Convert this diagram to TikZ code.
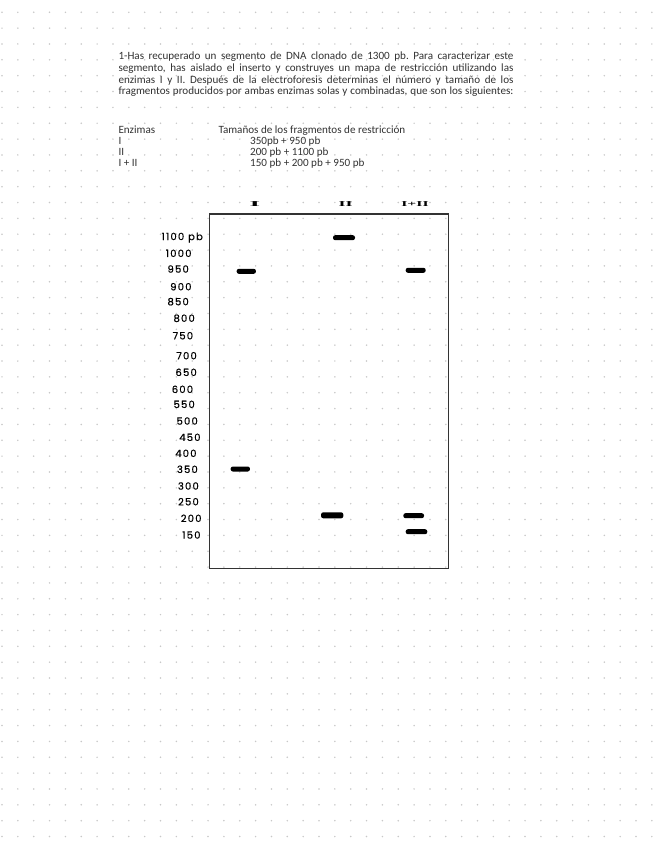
\documentclass[tikz,border=0pt]{standalone}
\usepackage{fontspec}
\setmainfont{Carlito}
\newfontfamily\handfont[LetterSpace=12,FakeBold=0.6]{Poppins}
\newfontfamily\lanefont{Liberation Serif}
\frenchspacing
\definecolor{dotgray}{RGB}{200,200,200}
\definecolor{inkgray}{RGB}{50,50,50}
\tikzset{
  band/.style={rectangle, fill=black, rounded corners=2.2pt, minimum height=5pt, inner sep=0pt},
  marker/.style={font=\handfont\fontsize{10}{11}\selectfont, inner sep=0pt, anchor=east},
  lane/.style={font=\lanefont\bfseries\fontsize{7.5}{9}\selectfont, inner sep=0pt},
  txt/.style={font=\fontsize{11.1}{11.7}\selectfont, text=inkgray, inner sep=0pt, anchor=mid west}
}
\begin{document}
\begin{tikzpicture}[x=1pt,y=-1pt]
\useasboundingbox (0,0) rectangle (656,848);
\fill[white] (0,0) rectangle (656,848);

\foreach \i in {0,...,41}
  \foreach \j in {0,...,52}
    \fill[dotgray] (2+15.85*\i,12.3+15.85*\j) circle (0.85);

\node[txt] (line1) at (118.3,57.3) {\makebox[395pt][s]{1-Has recuperado un segmento de DNA clonado de 1300 pb. Para caracterizar este}};
\node[txt] (line2) at (118.3,69) {\makebox[395pt][s]{segmento, has aislado el inserto y construyes un mapa de restricción utilizando las}};
\node[txt] (line3) at (118.3,80.7) {\makebox[395pt][s]{enzimas I y II. Después de la electroforesis determinas el número y tamaño de los}};
\node[txt] (line4) at (118.3,92.3) {\makebox[395pt][s]{fragmentos producidos por ambas enzimas solas y combinadas, que son los siguientes:}};

\node[txt] (enz) at (118.3,130.7) {Enzimas};
\node[txt] (tam) at (218.3,130.7) {Tamaños de los fragmentos de restricción};
\node[txt] (e1) at (118.3,141.7) {I};
\node[txt] (f1) at (250,141.7) {350pb + 950 pb};
\node[txt] (e2) at (118.3,152.7) {II};
\node[txt] (f2) at (250,152.7) {200 pb + 1100 pb};
\node[txt] (e3) at (118.3,164) {I + II};
\node[txt] (f3) at (250,164) {150 pb + 200 pb + 950 pb};

\node[draw=black!80, line width=1.3pt, minimum width=239pt, minimum height=354.7pt, inner sep=0pt] (gel) at (328.8,391.35) {};

\node[lane] (laneI) at (255,204.3) {\scalebox{3.6}[1]{I}};
\node[lane] (laneII) at (345.5,204.3) {\scalebox{2.4}[1]{II}};
\node[lane] (laneIII) at (415,204.3) {\scalebox{2.1}[1]{I+II}};

\node[marker] (m1100) at (203,237.7) {1100 pb};
\foreach \v/\x/\y in {1000/191.7/253.3, 950/189/269, 900/191.7/286.7, 850/189/301.7,
  800/195/318.3, 750/193.3/335.7, 700/197/355.7, 650/197/372.3, 600/193.3/389.3,
  550/195/404.3, 500/198/421, 450/200.7/437.3, 400/196.7/453.3, 350/198/469.3,
  300/199/486, 250/199/501.7, 200/201.7/518.3, 150/200.7/535}
  \node[marker] (m\v) at (\x,\y) {\v};

\node[band, minimum width=19.3pt] (bI950) at (246.3,271.3) {};
\node[band, minimum width=19.3pt] (bI350) at (240.3,469) {};
\node[band, minimum width=22pt] (bII1100) at (344,237.7) {};
\node[band, minimum width=22.3pt, minimum height=6pt] (bII200) at (332.2,515.3) {};
\node[band, minimum width=20pt] (bIII950) at (415.7,270.3) {};
\node[band, minimum width=20.7pt] (bIII200) at (413.7,515.7) {};
\node[band, minimum width=21.6pt] (bIII150) at (416.5,531.7) {};
\end{tikzpicture}
\end{document}
